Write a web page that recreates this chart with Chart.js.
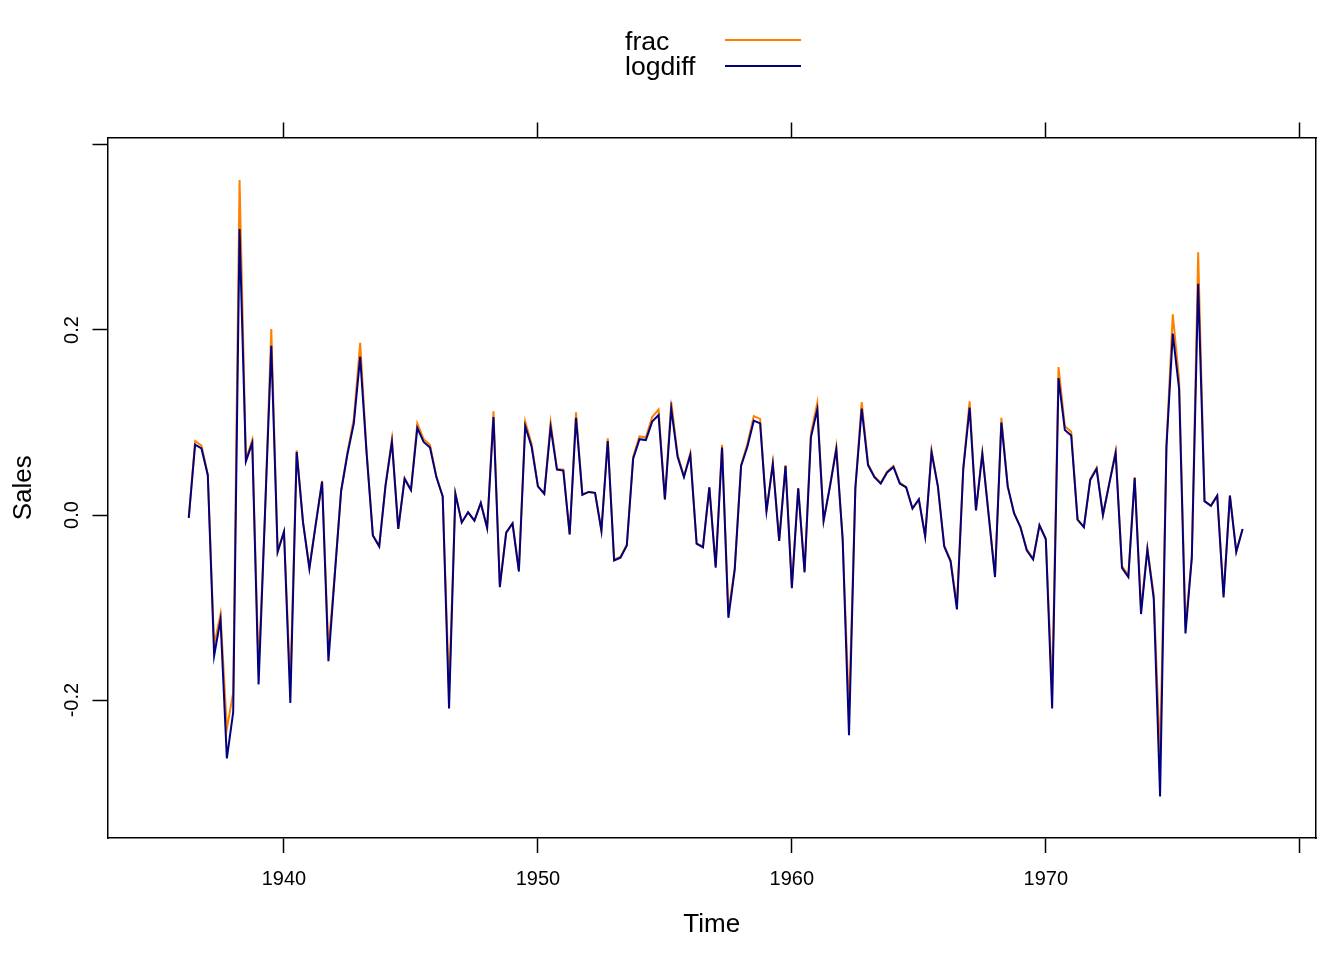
<!DOCTYPE html>
<html>
<head>
<meta charset="utf-8">
<script src="https://cdn.jsdelivr.net/npm/chart.js@4.4.1/dist/chart.umd.min.js"></script>
<style>
  html, body { margin: 0; padding: 0; background: #ffffff; }
  #c { display: block; }
</style>
</head>
<body>
<canvas id="c" width="1344" height="960"></canvas>
<script>
// Quarterly series, first value at 1936 Q2, last at 1977 Q4
const seriesStart = 1936.25;
const seriesFrequency = 4;

const logdiffValues = [
  /*1936*/ -0.003, 0.076, 0.072,
  /*1937*/ 0.043, -0.152, -0.113, -0.263,
  /*1938*/ -0.213, 0.309, 0.058, 0.078,
  /*1939*/ -0.183, 0.000, 0.183, -0.040,
  /*1940*/ -0.018, -0.203, 0.068, -0.008,
  /*1941*/ -0.058, -0.010, 0.036, -0.158,
  /*1942*/ -0.065, 0.026, 0.066, 0.099,
  /*1943*/ 0.171, 0.068, -0.022, -0.034,
  /*1944*/ 0.032, 0.079, -0.015, 0.039,
  /*1945*/ 0.027, 0.094, 0.079, 0.073,
  /*1946*/ 0.041, 0.020, -0.209, 0.023,
  /*1947*/ -0.008, 0.003, -0.006, 0.013,
  /*1948*/ -0.014, 0.106, -0.078, -0.019,
  /*1949*/ -0.009, -0.061, 0.096, 0.074,
  /*1950*/ 0.031, 0.023, 0.095, 0.049,
  /*1951*/ 0.048, -0.021, 0.105, 0.022,
  /*1952*/ 0.025, 0.024, -0.017, 0.080,
  /*1953*/ -0.049, -0.046, -0.033, 0.061,
  /*1954*/ 0.082, 0.081, 0.101, 0.108,
  /*1955*/ 0.017, 0.115, 0.063, 0.041,
  /*1956*/ 0.065, -0.031, -0.035, 0.030,
  /*1957*/ -0.057, 0.073, -0.111, -0.059,
  /*1958*/ 0.053, 0.074, 0.102, 0.099,
  /*1959*/ 0.004, 0.055, -0.028, 0.053,
  /*1960*/ -0.079, 0.029, -0.062, 0.084,
  /*1961*/ 0.114, -0.006, 0.031, 0.071,
  /*1962*/ -0.026, -0.238, 0.029, 0.115,
  /*1963*/ 0.054, 0.041, 0.034, 0.046,
  /*1964*/ 0.052, 0.034, 0.030, 0.007,
  /*1965*/ 0.017, -0.023, 0.068, 0.031,
  /*1966*/ -0.034, -0.050, -0.102, 0.050,
  /*1967*/ 0.116, 0.005, 0.066, 0.000,
  /*1968*/ -0.067, 0.100, 0.031, 0.002,
  /*1969*/ -0.013, -0.038, -0.048, -0.011,
  /*1970*/ -0.026, -0.209, 0.148, 0.092,
  /*1971*/ 0.086, -0.005, -0.013, 0.038,
  /*1972*/ 0.050, 0.000, 0.034, 0.067,
  /*1973*/ -0.057, -0.067, 0.040, -0.107,
  /*1974*/ -0.037, -0.090, -0.304, 0.073,
  /*1975*/ 0.196, 0.136, -0.128, -0.046,
  /*1976*/ 0.250, 0.015, 0.010, 0.021,
  /*1977*/ -0.089, 0.021, -0.040, -0.015
];

const fracValues = [
  /*1936*/ -0.003, 0.080, 0.075,
  /*1937*/ 0.044, -0.141, -0.107, -0.231,
  /*1938*/ -0.192, 0.362, 0.060, 0.081,
  /*1939*/ -0.167, 0.000, 0.201, -0.039,
  /*1940*/ -0.018, -0.184, 0.070, -0.008,
  /*1941*/ -0.056, -0.010, 0.037, -0.146,
  /*1942*/ -0.063, 0.026, 0.068, 0.104,
  /*1943*/ 0.186, 0.070, -0.022, -0.033,
  /*1944*/ 0.033, 0.082, -0.015, 0.040,
  /*1945*/ 0.027, 0.099, 0.082, 0.076,
  /*1946*/ 0.042, 0.020, -0.189, 0.023,
  /*1947*/ -0.008, 0.003, -0.006, 0.013,
  /*1948*/ -0.014, 0.112, -0.075, -0.019,
  /*1949*/ -0.009, -0.059, 0.101, 0.077,
  /*1950*/ 0.031, 0.023, 0.100, 0.050,
  /*1951*/ 0.049, -0.021, 0.111, 0.022,
  /*1952*/ 0.025, 0.024, -0.017, 0.083,
  /*1953*/ -0.048, -0.045, -0.032, 0.063,
  /*1954*/ 0.085, 0.084, 0.106, 0.114,
  /*1955*/ 0.017, 0.122, 0.065, 0.042,
  /*1956*/ 0.067, -0.031, -0.034, 0.030,
  /*1957*/ -0.055, 0.076, -0.105, -0.057,
  /*1958*/ 0.054, 0.077, 0.107, 0.104,
  /*1959*/ 0.004, 0.057, -0.028, 0.054,
  /*1960*/ -0.076, 0.029, -0.060, 0.088,
  /*1961*/ 0.121, -0.006, 0.031, 0.074,
  /*1962*/ -0.026, -0.212, 0.029, 0.122,
  /*1963*/ 0.055, 0.042, 0.035, 0.047,
  /*1964*/ 0.053, 0.035, 0.030, 0.007,
  /*1965*/ 0.017, -0.023, 0.070, 0.031,
  /*1966*/ -0.033, -0.049, -0.097, 0.051,
  /*1967*/ 0.123, 0.005, 0.068, 0.000,
  /*1968*/ -0.065, 0.105, 0.031, 0.002,
  /*1969*/ -0.013, -0.037, -0.047, -0.011,
  /*1970*/ -0.026, -0.189, 0.160, 0.096,
  /*1971*/ 0.090, -0.005, -0.013, 0.039,
  /*1972*/ 0.051, 0.000, 0.035, 0.069,
  /*1973*/ -0.055, -0.065, 0.041, -0.101,
  /*1974*/ -0.036, -0.086, -0.262, 0.076,
  /*1975*/ 0.217, 0.146, -0.120, -0.045,
  /*1976*/ 0.284, 0.015, 0.010, 0.021,
  /*1977*/ -0.085, 0.021, -0.039, -0.015
];

const seriesNames = ['frac', 'logdiff'];
const xTickValues = [1940, 1950, 1960, 1970, 1980];
const xTickLabels = ['1940', '1950', '1960', '1970', ''];
const yTickValues = [-0.2, 0.0, 0.2, 0.4];
const yTickLabels = ['-0.2', '0.0', '0.2', ''];
const xRange = [1933.05, 1980.64];
const yRange = [-0.349, 0.408];

// time index of the quarterly series (like ts(start, frequency))
const timeIndex = logdiffValues.map((_, i) => seriesStart + i / seriesFrequency);

const FONT = "'Liberation Sans', Arial, Helvetica, sans-serif";
const COL_FRAC = '#ff8000';
const COL_LOG = '#000080';
const AXIS_W = 1.5;

function toPoints(vals) { return vals.map((v, i) => ({ x: timeIndex[i], y: v })); }

const tickGrid = {
  display: true, drawOnChartArea: false, drawTicks: true,
  tickLength: 15, tickColor: '#000', tickWidth: AXIS_W
};
const border = { display: true, color: '#000', width: AXIS_W };

const legendPlugin = {
  id: 'latticeKey',
  afterDraw(chart) {
    const ctx = chart.ctx;
    ctx.save();
    ctx.font = '26.6px ' + FONT;
    ctx.fillStyle = '#000';
    ctx.textBaseline = 'alphabetic';
    ctx.textAlign = 'left';
    const rows = [{ ty: 49.5, ly: 40 }, { ty: 75, ly: 66 }];
    chart.data.datasets.forEach((ds, i) => {
      ctx.fillText(ds.label, 625, rows[i].ty);
      ctx.strokeStyle = ds.borderColor;
      ctx.lineWidth = 2;
      ctx.beginPath();
      ctx.moveTo(725, rows[i].ly);
      ctx.lineTo(801, rows[i].ly);
      ctx.stroke();
    });
    ctx.restore();
  }
};

new Chart(document.getElementById('c'), {
  type: 'line',
  data: {
    datasets: [
      { label: seriesNames[0], data: toPoints(fracValues), borderColor: COL_FRAC,
        borderWidth: 2, pointRadius: 0, tension: 0, fill: false, order: 1 },
      { label: seriesNames[1], data: toPoints(logdiffValues), borderColor: COL_LOG,
        borderWidth: 2, pointRadius: 0, tension: 0, fill: false, order: 0 }
    ]
  },
  options: {
    responsive: false,
    animation: false,
    devicePixelRatio: 1,
    layout: { padding: 0 },
    plugins: { legend: { display: false }, tooltip: { enabled: false } },
    scales: {
      x: {
        type: 'linear', position: 'bottom', bounds: 'data',
        min: xRange[0], max: xRange[1],
        afterBuildTicks: s => { s.ticks = xTickValues.map(v => ({ value: v })); },
        ticks: {
          callback: (v, i) => xTickLabels[i], autoSkip: false, maxRotation: 0, minRotation: 0,
          font: { family: FONT, size: 20 }, color: '#000', padding: 14
        },
        grid: tickGrid, border: border,
        title: { display: true, text: 'Time', color: '#000',
                 font: { family: FONT, size: 26 }, padding: { top: 0, bottom: 19.3 } },
        afterFit: s => { s.height = 122; }
      },
      xTop: {
        type: 'linear', position: 'top', bounds: 'data',
        min: xRange[0], max: xRange[1],
        afterBuildTicks: s => { s.ticks = xTickValues.map(v => ({ value: v })); },
        ticks: { display: false },
        grid: tickGrid, border: border,
        afterFit: s => { s.height = 137.5; }
      },
      y: {
        type: 'linear', position: 'left', bounds: 'data',
        min: yRange[0], max: yRange[1],
        afterBuildTicks: s => { s.ticks = yTickValues.map(v => ({ value: v })); },
        ticks: {
          callback: (v, i) => yTickLabels[i], autoSkip: false,
          minRotation: 90, maxRotation: 90, crossAlign: 'center',
          font: { family: FONT, size: 20 }, color: '#000', padding: 3
        },
        grid: tickGrid, border: border,
        title: { display: true, text: 'Sales', color: '#000',
                 font: { family: FONT, size: 26 }, padding: { top: 8.7, bottom: 0 } },
        afterFit: s => { s.width = 107.5; }
      },
      yRight: {
        type: 'linear', position: 'right', bounds: 'data',
        min: yRange[0], max: yRange[1],
        afterBuildTicks: s => { s.ticks = []; },
        ticks: { display: false },
        grid: { display: true, drawOnChartArea: false, drawTicks: false },
        border: border,
        afterFit: s => { s.width = 28; }
      }
    }
  },
  plugins: [legendPlugin]
});
</script>
</body>
</html>
